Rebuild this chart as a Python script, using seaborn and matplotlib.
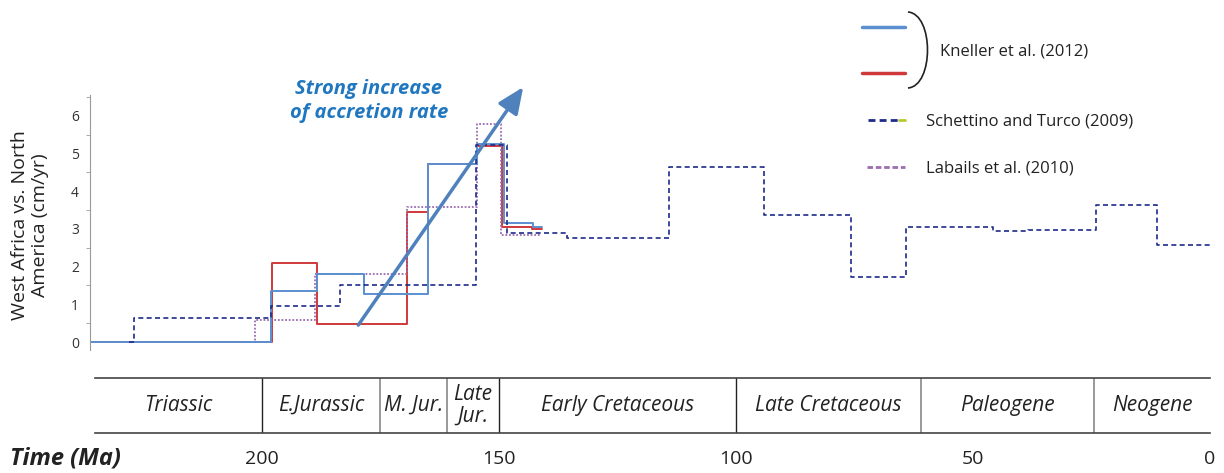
import numpy as np
import pandas as pd
import matplotlib.pyplot as plt
import seaborn as sns
from matplotlib.path import Path
from matplotlib.patches import PathPatch

# step series: age boundaries (Ma, old -> young) and rate (cm/yr) in each interval
kneller_blue_ma = [236, 198.2, 188.4, 178.5, 165, 154.7, 149, 142.8, 141]
kneller_blue_v = [0, 1.35, 1.8, 1.27, 4.72, 5.25, 3.15, 3.05]

kneller_red_ma = [236, 198, 188.4, 169.4, 165, 154.7, 149.3, 143, 141]
kneller_red_v = [0, 2.1, 0.47, 3.46, 4.72, 5.2, 3.05, 3.0]

schettino_ma = [228, 227, 198.2, 183.5, 154.9, 148.4, 135.6, 114.1, 94, 75.7, 64.2, 45.7, 38.4, 24, 11.2, 0]
schettino_v = [0, 0.64, 0.95, 1.51, 5.22, 2.9, 2.77, 4.65, 3.36, 1.73, 3.04, 2.94, 2.97, 3.64, 2.57]

labails_ma = [202, 201.5, 188.8, 169.5, 154.7, 149.6, 141.3]
labails_v = [0, 0.58, 1.8, 3.57, 5.78, 2.84]

# geological time scale
period_names = ["Triassic", "E.Jurassic", "M. Jur.", "Late\nJur.", "Early Cretaceous",
                "Late Cretaceous", "Paleogene", "Neogene"]
period_bounds = [235.2, 200, 175, 161, 150, 100, 61, 24.5, 0]
major_bounds = [200, 150, 100]
minor_bounds = [175, 161, 61, 24.5]
time_ticks = [200, 150, 100, 50, 0]


def steps(edges, vals):
    return pd.DataFrame({"ma": edges, "v": list(vals) + [vals[-1]]})


sns.set_style("white")
plt.rcParams['font.family'] = ['Open Sans', 'DejaVu Sans']

W, H = 1224, 473
fig = plt.figure(figsize=(W / 100, H / 100), dpi=100)

ax = fig.add_axes([90 / W, 1 - 350 / H, 1120 / W, 255 / H])
ax.set_xlim(236.3, 0)
ax.set_ylim(-0.21, 6.55)

sns.lineplot(data=steps(kneller_red_ma, kneller_red_v), x="ma", y="v", sort=False, estimator=None,
             drawstyle="steps-post", color="#d0393a", lw=1.4, ax=ax)
sns.lineplot(data=steps(labails_ma, labails_v), x="ma", y="v", sort=False, estimator=None,
             drawstyle="steps-post", color="#9a6cb0", lw=1.3, ls=(0, (1, 1)), ax=ax)
sns.lineplot(data=steps(kneller_blue_ma, kneller_blue_v), x="ma", y="v", sort=False, estimator=None,
             drawstyle="steps-post", color="#5b8fd0", lw=1.4, ax=ax)
sns.lineplot(data=steps(schettino_ma, schettino_v), x="ma", y="v", sort=False, estimator=None,
             drawstyle="steps-post", color="#1c2a8a", lw=1.2, ls=(0, (3, 2)), ax=ax)

for s in ["top", "right", "bottom"]:
    ax.spines[s].set_visible(False)
ax.spines["left"].set_color("#999999")
ax.set_xticks([])
ax.set_yticks(range(7))
ax.set_yticks(np.arange(0.5, 6.6, 1), minor=True)
ax.tick_params(axis="y", which="major", length=4, color="#999999", labelsize=10,
               labelcolor="#333333", pad=4)
ax.tick_params(axis="y", which="minor", length=3, color="#999999", left=True)
ax.set_xlabel("")
ax.set_ylabel("")

fig.text(30 / W, 1 - 225 / H, "West Africa vs. North\nAmerica (cm/yr)", rotation=90,
         ha="center", va="center", fontsize=14, color="#222222", multialignment="center")

# arrow and annotation
ax.annotate("", xy=(144.9, 6.76), xytext=(179.7, 0.45), annotation_clip=False,
            arrowprops=dict(arrowstyle="-|>,head_length=0.8,head_width=0.35", mutation_scale=20,
                            color="#4f81bd", lw=2.5, shrinkA=0, shrinkB=0))
ax.text(177.5, 6.39, "Strong increase\nof accretion rate", ha="center", va="center",
        color="#1f77c0", fontsize=14.5, fontweight="bold", style="italic", linespacing=1.3)

# time scale bar
tax = fig.add_axes([95 / W, 1 - 433 / H, 1115 / W, 55 / H])
tax.set_xlim(235.2, 0)
tax.set_ylim(0, 1)
for s in ["left", "right"]:
    tax.spines[s].set_visible(False)
for s in ["top", "bottom"]:
    tax.spines[s].set_color("#444444")
    tax.spines[s].set_linewidth(1.2)
tax.set_yticks([])
tax.set_xticks(time_ticks)
tax.tick_params(axis="x", length=8, width=1, color="#333333", labelsize=14, pad=4,
                labelcolor="#222222")
for b in major_bounds:
    tax.axvline(b, color="#222222", lw=1)
for b in minor_bounds:
    tax.axvline(b, color="#888888", lw=1.2)
for i, name in enumerate(period_names):
    mid = (period_bounds[i] + period_bounds[i + 1]) / 2
    tax.text(mid, 0.5, name, ha="center", va="center", style="italic", fontsize=15,
             color="#222222", linespacing=1.05)

fig.text(10 / W, 1 - 458 / H, "Time (Ma)", ha="left", va="center", fontsize=17,
         fontweight="bold", style="italic", color="#222222")

# legend drawn in pixel space
lax = fig.add_axes([0, 0, 1, 1])
lax.set_xlim(0, W)
lax.set_ylim(H, 0)
lax.axis("off")
lax.plot([862, 905], [27, 27], color="#5b8fd0", lw=2.5)
lax.plot([862, 905], [73, 73], color="#d0393a", lw=2.5)
brace = Path([(908, 12), (934, 14), (934, 86), (908, 88)],
             [Path.MOVETO, Path.CURVE4, Path.CURVE4, Path.CURVE4])
lax.add_patch(PathPatch(brace, fill=False, color="#222222", lw=1.2))
lax.text(940, 51, "Kneller et al. (2012)", ha="left", va="center", fontsize=12, color="#222222")
lax.plot([868, 899], [120, 120], color="#1c2a8a", lw=2, ls=(0, (2.5, 1.5)))
lax.plot([899, 905], [120, 120], color="#b5c934", lw=2)
lax.text(926, 121, "Schettino and Turco (2009)", ha="left", va="center", fontsize=12, color="#222222")
lax.plot([867, 905], [167, 167], color="#9a6cb0", lw=2, ls=(0, (2, 1)))
lax.text(926, 168, "Labails et al. (2010)", ha="left", va="center", fontsize=12, color="#222222")

fig.savefig("out.png", dpi=100)
